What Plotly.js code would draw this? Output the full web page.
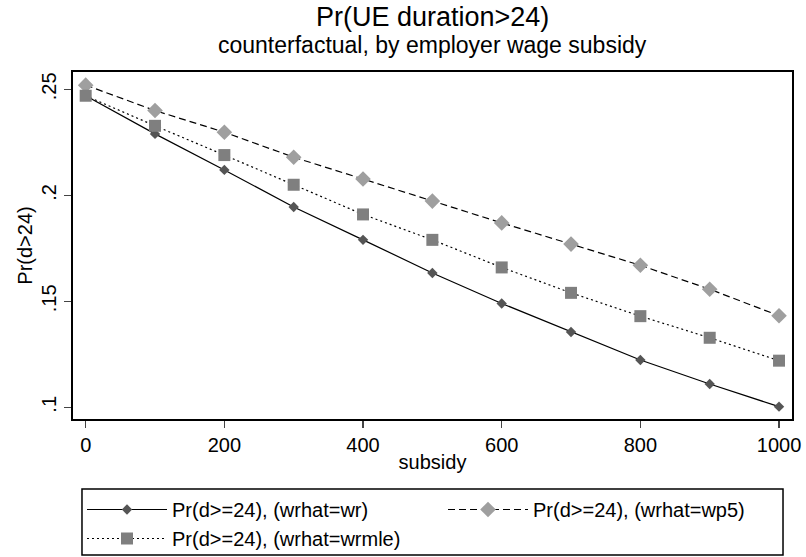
<!DOCTYPE html>
<html><head><meta charset="utf-8">
<script src="https://cdn.plot.ly/plotly-3.0.1.min.js"></script>
<style>html,body{margin:0;padding:0;background:#fff}#chart{width:806px;height:557px}</style>
</head><body><div id="chart"></div>
<script>
const subsidy = [0,100,200,300,400,500,600,700,800,900,1000];
const prWr    = [0.247,0.229,0.212,0.1945,0.179,0.1634,0.149,0.1355,0.1223,0.111,0.1003];
const prWp5   = [0.252,0.240,0.2298,0.218,0.2077,0.1973,0.187,0.177,0.167,0.1557,0.1432];
const prWrmle = [0.247,0.2328,0.219,0.205,0.191,0.179,0.166,0.154,0.143,0.1328,0.122];
const names = ["Pr(d>=24), (wrhat=wr)","Pr(d>=24), (wrhat=wp5)","Pr(d>=24), (wrhat=wrmle)"];
const yTickVals = [0.1,0.15,0.2,0.25];
const yTickText = [".1",".15",".2",".25"];
const xTickVals = [0,200,400,600,800,1000];
const titleText = "Pr(UE duration>24)";
const subtitleText = "counterfactual, by employer wage subsidy";

const F = "Liberation Sans, Arial, sans-serif";
const traces = [
  {x:subsidy,y:prWr,name:names[0],mode:"lines+markers",
   line:{color:"#000",width:1.2,dash:"solid"},
   marker:{symbol:"diamond",size:8,color:"#555555"}},
  {x:subsidy,y:prWp5,name:names[1],mode:"lines+markers",
   line:{color:"#000",width:1.2,dash:"7px,4px"},
   marker:{symbol:"diamond",size:12,color:"#9f9f9f"}},
  {x:subsidy,y:prWrmle,name:names[2],mode:"lines+markers",
   line:{color:"#000",width:1.2,dash:"2px,3px"},
   marker:{symbol:"square",size:12,color:"#7f7f7f"}}
];
const layout = {
  width:806,height:557,
  paper_bgcolor:"#fff",plot_bgcolor:"#fff",
  margin:{l:73,r:14,t:72,b:138,autoexpand:false},
  font:{family:F,color:"#000",size:20},
  showlegend:true,
  annotations:[
    {text:titleText,xref:"paper",yref:"paper",x:0.5,y:1.1585,xanchor:"center",yanchor:"middle",
     showarrow:false,font:{family:F,size:27,color:"#000"}},
    {text:subtitleText,xref:"paper",yref:"paper",x:0.5,y:1.0778,xanchor:"center",yanchor:"middle",
     showarrow:false,font:{family:F,size:23,color:"#000"}}
  ],
  shapes:[
    {type:"rect",xref:"paper",yref:"paper",x0:0.0125,x1:0.9875,y0:-0.2017,y1:-0.3919,
     line:{color:"#000",width:1.5},fillcolor:"rgba(0,0,0,0)",layer:"above"}
  ],
  xaxis:{range:[-18.3,1018.7],tickvals:xTickVals,ticks:"outside",ticklen:7,tickwidth:1.5,
         showgrid:false,zeroline:false,showline:true,linewidth:2,linecolor:"#000",mirror:true,
         tickfont:{family:F,size:20},
         title:{text:"subsidy",font:{family:F,size:20},standoff:0}},
  yaxis:{range:[0.09448,0.2582],tickvals:yTickVals,ticktext:yTickText,tickangle:-90,
         ticks:"outside",ticklen:7,tickwidth:1.5,
         showgrid:false,zeroline:false,showline:true,linewidth:2,linecolor:"#000",mirror:true,
         tickfont:{family:F,size:20},
         title:{text:"Pr(d>24)",font:{family:F,size:20},standoff:0}},
  legend:{orientation:"h",xref:"container",yref:"container",x:82/806,xanchor:"left",y:1-490/557,yanchor:"top",
          borderwidth:0,bgcolor:"rgba(0,0,0,0)",
          entrywidth:266,entrywidthmode:"pixels",
          font:{family:F,size:20},tracegroupgap:0,itemwidth:80}
};
Plotly.newPlot("chart",traces,layout,{displayModeBar:false,staticPlot:true});
</script></body></html>
